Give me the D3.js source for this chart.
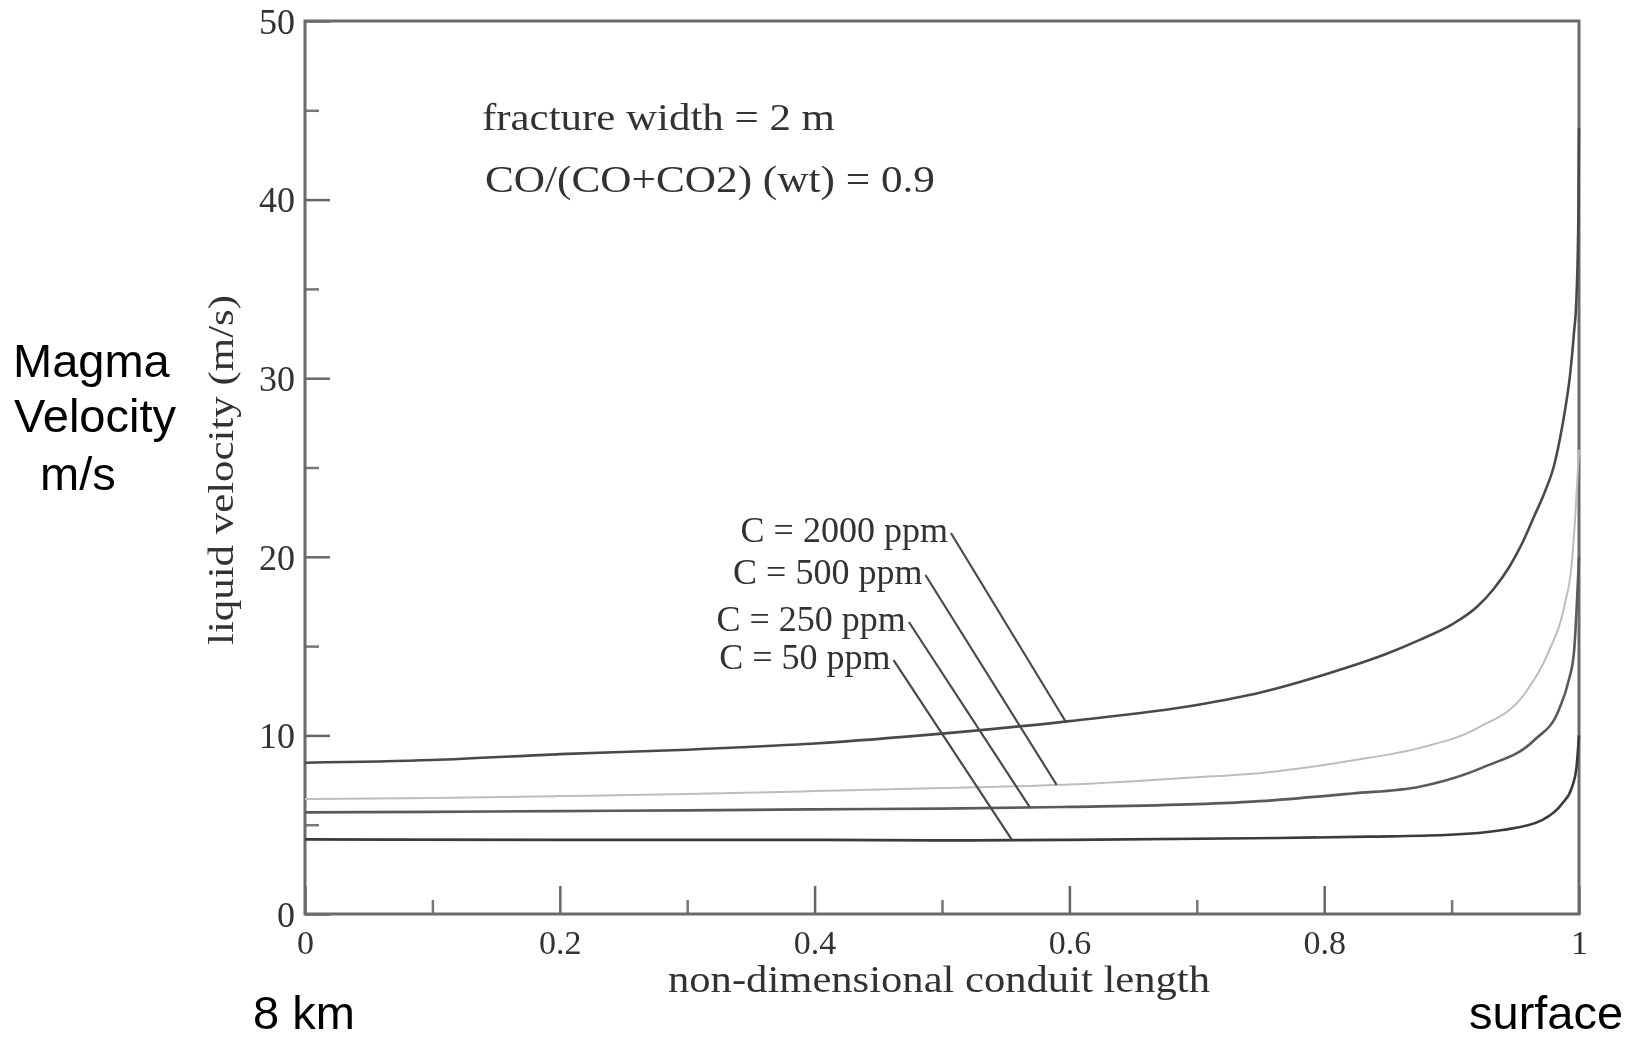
<!DOCTYPE html>
<html>
<head>
<meta charset="utf-8">
<script src="https://cdn.jsdelivr.net/npm/d3@7"></script>
<style>
  html, body { margin: 0; padding: 0; background: #fff; }
  svg { display: block; }
</style>
</head>
<body>
<svg id="chart" width="1650" height="1040"></svg>
<script>
// Liquid velocity along a fracture conduit for four CO+CO2 contents
const seriesLabels = ["C = 2000 ppm", "C = 500 ppm", "C = 250 ppm", "C = 50 ppm"];

// [non-dimensional conduit length, liquid velocity (m/s)]
const ppm2000 = [[0, 8.47], [0.1, 8.62], [0.2, 8.95], [0.3, 9.2], [0.4, 9.55], [0.5, 10.1], [0.6, 10.8],
  [0.7, 11.7], [0.75, 12.4], [0.8, 13.4], [0.85, 14.6], [0.875, 15.35], [0.9, 16.2], [0.92, 17.2],
  [0.933, 18.2], [0.945, 19.4], [0.955, 20.7], [0.965, 22.3], [0.973, 23.6], [0.98, 25.0], [0.985, 26.6],
  [0.989, 28.2], [0.993, 30.2], [0.996, 32.5], [0.998, 34.5], [0.9995, 39], [1, 44]];
const ppm500 = [[0, 6.44], [0.1, 6.5], [0.2, 6.6], [0.3, 6.72], [0.4, 6.88], [0.5, 7.05], [0.6, 7.25],
  [0.7, 7.65], [0.75, 7.9], [0.822, 8.6], [0.875, 9.3], [0.92, 10.4], [0.958, 12.4], [0.975, 14.5],
  [0.989, 17.4], [0.994, 19.4], [0.997, 22.2], [1, 26]];
const ppm250 = [[0, 5.69], [0.1, 5.72], [0.2, 5.76], [0.3, 5.8], [0.4, 5.86], [0.5, 5.9], [0.6, 6.0],
  [0.7, 6.15], [0.744, 6.29], [0.822, 6.75], [0.875, 7.13], [0.926, 8.25], [0.965, 9.74], [0.984, 11.4],
  [0.992, 13.1], [0.996, 14.6], [1, 20]];
const ppm50 = [[0, 4.18], [0.2, 4.15], [0.4, 4.15], [0.5, 4.12], [0.6, 4.15], [0.744, 4.24], [0.835, 4.33],
  [0.895, 4.42], [0.94, 4.7], [0.971, 5.26], [0.987, 6.2], [0.9945, 7.1], [0.998, 8.2], [1, 10]];

// where each leader line meets its curve (conduit length)
const leaderTargets = [0.597, 0.59, 0.569, 0.555];
// where each leader line starts, next to its label [length, velocity]
const leaderStarts = [[0.507, 21.33], [0.487, 18.98], [0.474, 16.35], [0.462, 14.22]];

const xMajorTicks = [0, 0.2, 0.4, 0.6, 0.8, 1];
const xTickLabels = ["0", "0.2", "0.4", "0.6", "0.8", "1"];
const xMinorTicks = [0.1, 0.3, 0.5, 0.7, 0.9];
const yMajorTicks = [0, 10, 20, 30, 40, 50];
const yMinorTicks = [5, 15, 25, 35, 45];

const allSeries = [ppm2000, ppm500, ppm250, ppm50];
const lineColors = ["#4a4a4a", "#bdbdbd", "#5a5a5a", "#3a3a3a"];

const svg = d3.select("#chart");
const serif = "'Liberation Serif', 'DejaVu Serif', serif";
const sans = "'Liberation Sans', Arial, sans-serif";

const x = d3.scaleLinear().domain([0, 1]).range([305, 1579]);
const y = d3.scaleLinear().domain([0, 50]).range([914, 21]);

// soft scan look for the plotted figure
const defs = svg.append("defs");
defs.append("filter").attr("id", "soft")
  .append("feGaussianBlur").attr("stdDeviation", 0.55);

const fig = svg.append("g").attr("filter", "url(#soft)");

// x axis: long major ticks, short minor ticks, both pointing inward
const xAxis = fig.append("g").attr("transform", `translate(0,${y(0)})`)
  .call(d3.axisBottom(x).tickValues(xMajorTicks).tickSize(-28)
    .tickFormat((d, i) => xTickLabels[i]));
xAxis.select(".domain").remove();
xAxis.selectAll(".tick line").attr("stroke", "#666").attr("stroke-width", 2.5);
xAxis.selectAll(".tick text").attr("y", 40).attr("dy", 0)
  .attr("font-family", serif).attr("font-size", 34).attr("fill", "#333");

const xMinor = fig.append("g").attr("transform", `translate(0,${y(0)})`)
  .call(d3.axisBottom(x).tickValues(xMinorTicks).tickSize(-14).tickFormat(""));
xMinor.select(".domain").remove();
xMinor.selectAll(".tick line").attr("stroke", "#777").attr("stroke-width", 2.5);

// y axis
const yAxis = fig.append("g").attr("transform", `translate(${x(0)},0)`)
  .call(d3.axisLeft(y).tickValues(yMajorTicks).tickSize(-25).tickFormat(d3.format("d")));
yAxis.select(".domain").remove();
yAxis.selectAll(".tick line").attr("stroke", "#666").attr("stroke-width", 2.5);
yAxis.selectAll(".tick text").attr("x", -10).attr("dy", "0.34em")
  .attr("font-family", serif).attr("font-size", 36).attr("fill", "#333");

const yMinor = fig.append("g").attr("transform", `translate(${x(0)},0)`)
  .call(d3.axisLeft(y).tickValues(yMinorTicks).tickSize(-14).tickFormat(""));
yMinor.select(".domain").remove();
yMinor.selectAll(".tick line").attr("stroke", "#777").attr("stroke-width", 2.5);

// frame
fig.append("rect")
  .attr("x", x(0)).attr("y", y(50))
  .attr("width", x(1) - x(0)).attr("height", y(0) - y(50))
  .attr("fill", "none").attr("stroke", "#6a6a6a").attr("stroke-width", 3);

// velocity curves
const line = d3.line().x(d => x(d[0])).y(d => y(d[1])).curve(d3.curveMonotoneX);
fig.selectAll("path.curve").data(allSeries).join("path")
  .attr("class", "curve")
  .attr("d", line)
  .attr("fill", "none")
  .attr("stroke", (d, i) => lineColors[i])
  .attr("stroke-width", (d, i) => i === 1 ? 2 : 2.6);

// velocity at a given length along a series (linear between readings)
function valueAt(series, v) {
  const i = d3.bisector(d => d[0]).right(series, v);
  const a = series[Math.max(0, i - 1)], b = series[Math.min(series.length - 1, i)];
  if (b[0] === a[0]) return a[1];
  return a[1] + (b[1] - a[1]) * (v - a[0]) / (b[0] - a[0]);
}

// leader lines and their labels
seriesLabels.forEach((label, i) => {
  const [sx, sy] = leaderStarts[i];
  const tx = leaderTargets[i];
  fig.append("line")
    .attr("x1", x(sx)).attr("y1", y(sy))
    .attr("x2", x(tx)).attr("y2", y(valueAt(allSeries[i], tx)))
    .attr("stroke", "#4a4a4a").attr("stroke-width", 2.2);
  fig.append("text")
    .attr("x", x(sx) - 3).attr("y", y(sy) + 9)
    .attr("text-anchor", "end")
    .attr("font-family", serif).attr("font-size", 36).attr("fill", "#333")
    .text(label);
});

// run parameters
fig.append("text").attr("x", 482).attr("y", 130)
  .attr("font-family", serif).attr("font-size", 38).attr("fill", "#333")
  .attr("textLength", 353).attr("lengthAdjust", "spacingAndGlyphs")
  .text("fracture width = 2 m");
fig.append("text").attr("x", 485).attr("y", 192)
  .attr("font-family", serif).attr("font-size", 38).attr("fill", "#333")
  .attr("textLength", 450).attr("lengthAdjust", "spacingAndGlyphs")
  .text("CO/(CO+CO2) (wt) = 0.9");

// axis titles
fig.append("text").attr("x", 939).attr("y", 992)
  .attr("text-anchor", "middle")
  .attr("font-family", serif).attr("font-size", 37).attr("fill", "#333")
  .attr("textLength", 542).attr("lengthAdjust", "spacingAndGlyphs")
  .text("non-dimensional conduit length");
fig.append("text")
  .attr("transform", "translate(233,470) rotate(-90)")
  .attr("text-anchor", "middle")
  .attr("font-family", serif).attr("font-size", 36).attr("fill", "#333")
  .attr("textLength", 350).attr("lengthAdjust", "spacingAndGlyphs")
  .text("liquid velocity (m/s)");

// plain-language labels
const side = svg.append("g").attr("font-family", sans).attr("fill", "#000");
side.append("text").attr("x", 13).attr("y", 377).attr("font-size", 47).text("Magma");
side.append("text").attr("x", 14).attr("y", 432).attr("font-size", 47).text("Velocity");
side.append("text").attr("x", 40).attr("y", 490).attr("font-size", 47).text("m/s");
side.append("text").attr("x", 253).attr("y", 1029).attr("font-size", 47).text("8 km");
side.append("text").attr("x", 1469).attr("y", 1029).attr("font-size", 47).text("surface");
</script>
</body>
</html>
